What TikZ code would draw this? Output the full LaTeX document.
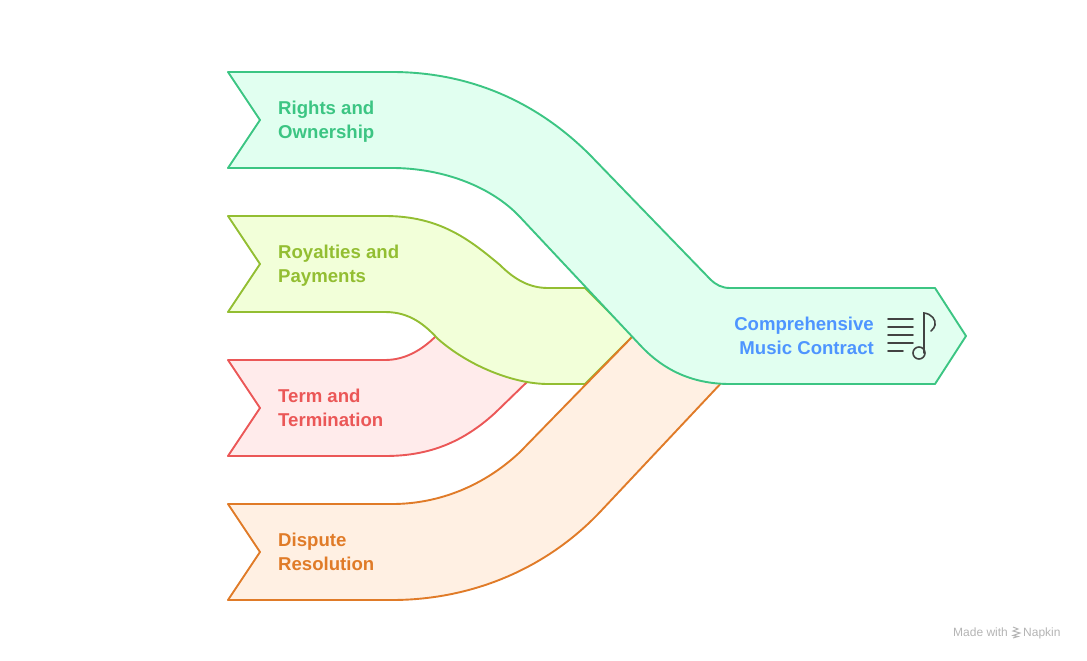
\documentclass[tikz,border=0pt]{standalone}
\usepackage{fontspec}
\setmainfont{Liberation Sans}
\definecolor{gline}{HTML}{3CC583}
\definecolor{gfill}{HTML}{E1FFF0}
\definecolor{yline}{HTML}{93BE32}
\definecolor{yfill}{HTML}{F2FFD9}
\definecolor{rline}{HTML}{EB5757}
\definecolor{rfill}{HTML}{FFEBEB}
\definecolor{oline}{HTML}{E07B28}
\definecolor{ofill}{HTML}{FFF0E3}
\definecolor{btext}{HTML}{4E95FF}
\definecolor{icongray}{HTML}{424242}
\definecolor{wmgray}{HTML}{B4B4B4}
\newcommand{\lstrut}{\vphantom{Ag}}
\tikzset{
  band/.style={line width=1.9pt,line join=round},
  lab/.style={font=\bfseries\fontsize{18.6}{24}\selectfont,inner sep=0pt,align=left,anchor=west},
  ic/.style={draw=icongray,line width=1.6pt,line cap=round},
  wm/.style={font=\fontsize{12}{14}\selectfont,text=wmgray,inner sep=0pt,anchor=base west},
}
\begin{document}
\begin{tikzpicture}[x=1pt,y=-1pt]
\useasboundingbox (0,0) rectangle (1087,661);
% red
\draw[band,draw=rline,fill=rfill] (228,360) -- (385,360) .. controls (405,360) and (422,350) .. (436,336)
  -- (528,381) -- (495,413) .. controls (460,445) and (425,456) .. (385,456) -- (228,456) -- (260,408) -- cycle;
% yellow
\draw[band,draw=yline,fill=yfill] (228,216) -- (385,216) .. controls (440,216) and (470,240) .. (500,265)
  .. controls (515,280) and (530,288) .. (548,288) -- (585,288) -- (633,336) -- (585,384) -- (548,384)
  .. controls (515,384) and (470,367) .. (438,339) .. controls (425,325) and (410,312) .. (385,312)
  -- (228,312) -- (260,264) -- cycle;
% orange
\draw[band,draw=oline,fill=ofill] (228,504) -- (392,504) .. controls (440,504) and (485,485) .. (520,452)
  -- (633,336) -- (725,379) -- (600,512) .. controls (545,570) and (470,600) .. (392,600) -- (228,600) -- (260,552) -- cycle;
% green
\draw[band,draw=gline,fill=gfill] (228,72) -- (392,72) .. controls (460,72) and (530,95) .. (590,155)
  -- (710,279) .. controls (716,285) and (722,288) .. (730,288) -- (935,288) -- (966,336) -- (935,384) -- (730,384)
  .. controls (695,384) and (665,372) .. (640,345) -- (520,217) .. controls (490,185) and (440,168) .. (392,168)
  -- (228,168) -- (260,120) -- cycle;
% labels
\node[lab,text=gline] (t1) at (278,122) {\lstrut Rights and\\\lstrut Ownership};
\node[lab,text=yline] (t2) at (278,266) {\lstrut Royalties and\\\lstrut Payments};
\node[lab,text=rline] (t3) at (278,410) {\lstrut Term and\\\lstrut Termination};
\node[lab,text=oline] (t4) at (278,554) {\lstrut Dispute\\\lstrut Resolution};
\node[lab,text=btext,align=right,anchor=east] (t5) at (874,338) {\lstrut Comprehensive\\\lstrut Music Contract};
% icon
\draw[ic] (888,319) -- (913,319) (888,327) -- (913,327) (888,335) -- (913,335) (888,343) -- (913,343) (888,351) -- (903,351);
\draw[ic] (924,353) -- (924,313) .. controls (932,314) and (936,320) .. (935,325) .. controls (935,327) and (933,329) .. (931,331);
\draw[ic] (919,353) circle (6);
% watermark
\node[wm] (w1) at (953,636.5) {Made with};
\node[wm] (w2) at (1023,636.5) {Napkin};
\draw[wmgray,line width=1pt] (1013,627) -- (1018,629) -- (1013,631) -- (1020,633) -- (1013,635.5) -- (1018,636.5) -- (1013,638);
\end{tikzpicture}
\end{document}
